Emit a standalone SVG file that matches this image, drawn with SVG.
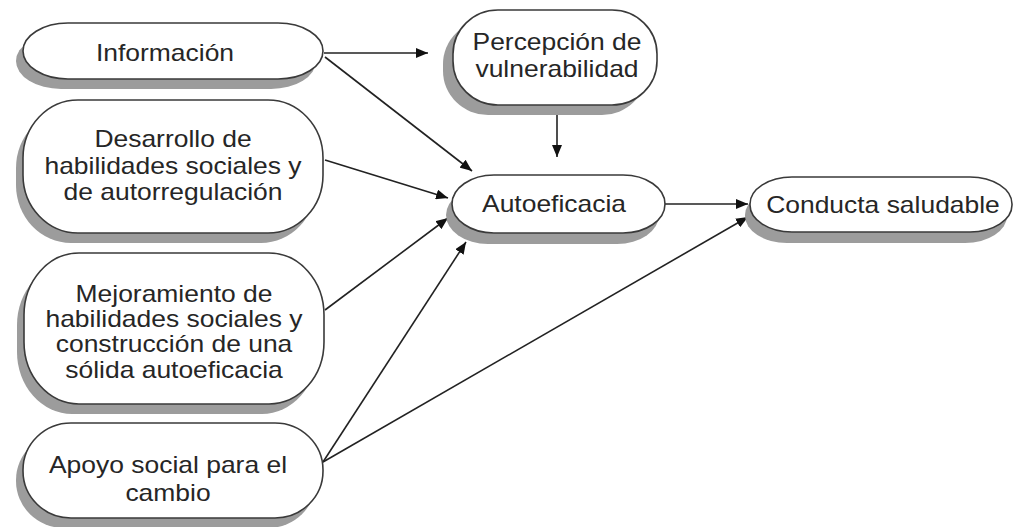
<svg xmlns="http://www.w3.org/2000/svg" width="1018" height="527" viewBox="0 0 1018 527">
<style>
.box{fill:#ffffff;stroke:#3a3a3a;stroke-width:1.6}
.sh{fill:#9c9c9c}
.t{font-family:"Liberation Sans",Arial,sans-serif;font-size:23px;fill:#262626;text-anchor:middle}
.c{stroke:#222;stroke-width:1.6;fill:none;marker-end:url(#ah)}
</style>
<defs>
<marker id="ah" markerUnits="userSpaceOnUse" markerWidth="13" markerHeight="10" refX="12" refY="5" orient="auto">
<path d="M0,0 L12,5 L0,10 z" fill="#111"/>
</marker>
</defs>
<rect width="1018" height="527" fill="#ffffff"/>

<g id="connectors">
<line class="c" x1="324" y1="53" x2="428" y2="53"/>
<line class="c" x1="325" y1="57" x2="472" y2="171"/>
<line class="c" x1="325" y1="160" x2="448" y2="198"/>
<line class="c" x1="325" y1="310" x2="448" y2="218"/>
<line class="c" x1="323" y1="462" x2="466" y2="242"/>
<line class="c" x1="323" y1="462" x2="748" y2="217"/>
<line class="c" x1="557" y1="105" x2="557" y2="157"/>
<line class="c" x1="665" y1="204" x2="748" y2="204"/>
</g>

<g id="informacion">
<rect class="sh" x="16" y="33" width="300" height="56" rx="45" ry="28"/>
<rect class="box" x="23" y="23" width="300" height="56" rx="45" ry="28"/>
<g transform="translate(165,0) scale(1.15,1)"><text class="t" x="0" y="61">Información</text></g>
</g>

<g id="desarrollo">
<rect class="sh" x="16" y="110" width="300" height="133" rx="55" ry="58"/>
<rect class="box" x="23" y="100" width="300" height="133" rx="55" ry="58"/>
<g transform="translate(173,0) scale(1.15,1)">
<text class="t" x="0" y="147">Desarrollo de</text>
<text class="t" x="0" y="174">habilidades sociales y</text>
<text class="t" x="0" y="200">de autorregulación</text>
</g>
</g>

<g id="mejoramiento">
<rect class="sh" x="17" y="263" width="300" height="151" rx="55" ry="62"/>
<rect class="box" x="24" y="253" width="300" height="151" rx="55" ry="62"/>
<g transform="translate(174,0) scale(1.15,1)">
<text class="t" x="0" y="302">Mejoramiento de</text>
<text class="t" x="0" y="327">habilidades sociales y</text>
<text class="t" x="0" y="352">construcción de una</text>
<text class="t" x="0" y="378">sólida autoeficacia</text>
</g>
</g>

<g id="apoyo">
<rect class="sh" x="16" y="433" width="300" height="95" rx="48" ry="47"/>
<rect class="box" x="23" y="423" width="300" height="95" rx="48" ry="47"/>
<g transform="translate(168,0) scale(1.15,1)">
<text class="t" x="0" y="473">Apoyo social para el</text>
<text class="t" x="0" y="501">cambio</text>
</g>
</g>

<g id="percepcion">
<rect class="sh" x="443" y="20" width="204" height="95" rx="45" ry="44"/>
<rect class="box" x="453" y="10" width="204" height="95" rx="45" ry="44"/>
<g transform="translate(557,0) scale(1.15,1)">
<text class="t" x="0" y="50">Percepción de</text>
<text class="t" x="0" y="77">vulnerabilidad</text>
</g>
</g>

<g id="autoeficacia">
<rect class="sh" x="446" y="186" width="213" height="58" rx="42" ry="29"/>
<rect class="box" x="452" y="175" width="213" height="58" rx="42" ry="29"/>
<g transform="translate(554,0) scale(1.15,1)"><text class="t" x="0" y="212">Autoeficacia</text></g>
</g>

<g id="conducta">
<rect class="sh" x="745" y="188" width="262" height="55" rx="42" ry="27"/>
<rect class="box" x="750" y="177" width="262" height="55" rx="42" ry="27"/>
<g transform="translate(883,0) scale(1.15,1)"><text class="t" x="0" y="213">Conducta saludable</text></g>
</g>
</svg>
